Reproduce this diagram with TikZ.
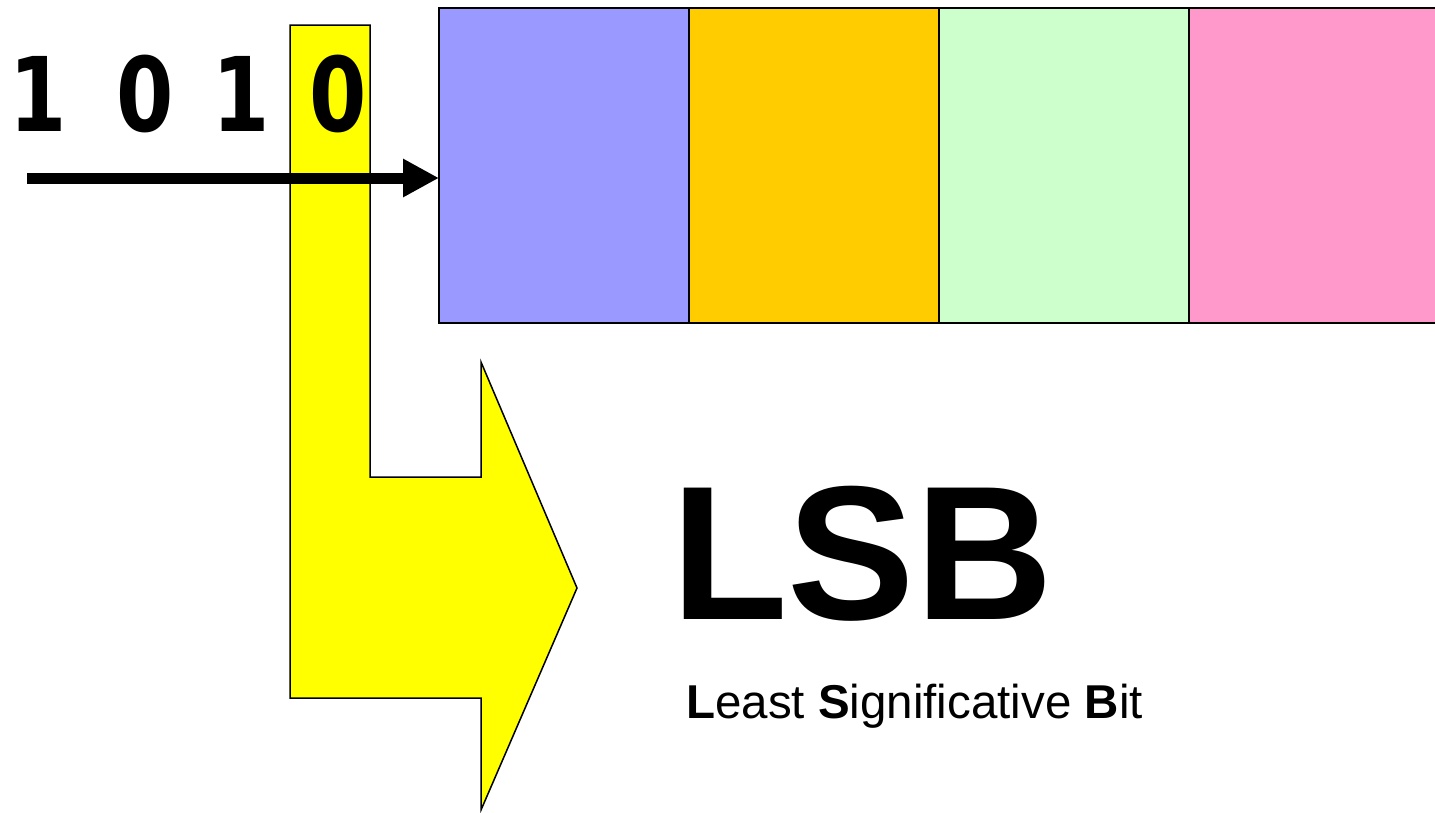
\documentclass[tikz,border=0pt]{standalone}
\usepackage{fontspec}
\usepackage{graphicx}
\setmainfont{Liberation Sans}
\newfontfamily\djv{DejaVu Sans}
\usetikzlibrary{arrows.meta}
\definecolor{cblue}{HTML}{9999FF}
\definecolor{corange}{HTML}{FFCC00}
\definecolor{cgreen}{HTML}{CCFFCC}
\definecolor{cpink}{HTML}{FF99CC}
\definecolor{cyellow}{HTML}{FFFF00}
\newcommand{\narrowdigit}[1]{\scalebox{0.8}[1]{#1}}
\tikzset{
  cell/.style={draw=black, line width=2pt, minimum width=250pt, minimum height=315pt, inner sep=0pt, outer sep=0pt, anchor=north west},
  digit/.style={font=\djv\bfseries\fontsize{103}{110}\selectfont, inner sep=0pt, anchor=base},
  bigarrow/.style={line width=11pt, -{Triangle[length=36pt,width=36pt]}, shorten >=0pt}
}
\begin{document}
\begin{tikzpicture}[x=1pt,y=-1pt]
\useasboundingbox (0,0) rectangle (1435,812);
\clip (0,0) rectangle (1435,812);
\fill[white] (0,0) rectangle (1435,812);
% yellow bent arrow
\draw[fill=cyellow, line width=1.5pt, line join=miter]
  (290,25) -- (370,25) -- (370,477) -- (481,477) -- (481,362) -- (577,588)
  -- (481,810) -- (481,698) -- (290,698) -- cycle;
% register cells
\node[cell, fill=cblue]   (b1) at (439,8)  {};
\node[cell, fill=corange] (b2) at (689,8)  {};
\node[cell, fill=cgreen]  (b3) at (939,8)  {};
\node[cell, fill=cpink, minimum width=260pt] (b4) at (1189,8) {};
% digits
\node[digit] (d1) at (38,131)  {\narrowdigit{1}};
\node[digit] (d2) at (145,131) {\narrowdigit{0}};
\node[digit] (d3) at (241,131) {\narrowdigit{1}};
\node[digit] (d4) at (338,131) {\narrowdigit{0}};
% input arrow
\coordinate (start) at (27,178);
\draw[bigarrow] (start) -- (b1.west |- start);
% labels
\node[font=\bfseries\fontsize{191}{196}\selectfont, inner sep=0pt, anchor=base west] (lsb) at (671,619) {LSB};
\node[font=\fontsize{47.5}{50}\selectfont, inner sep=0pt, anchor=base west] (full) at (686,718) {\textbf{L}east \textbf{S}ignificative \textbf{B}it};
\end{tikzpicture}
\end{document}
